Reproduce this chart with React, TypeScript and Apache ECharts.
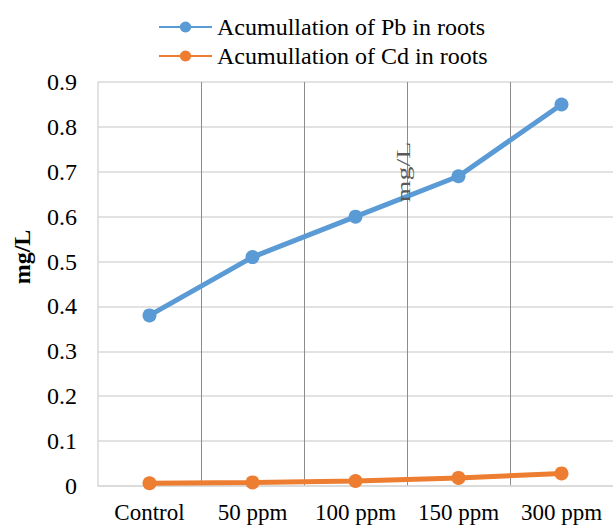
import React, { useEffect, useRef } from "react";
import * as echarts from "echarts";

const categories = ["Control", "50 ppm", "100 ppm", "150 ppm", "300 ppm"];
const pbValues = [0.38, 0.51, 0.6, 0.69, 0.85];
const cdValues = [0.006, 0.008, 0.011, 0.018, 0.028];
const seriesNames = ["Acumullation of Pb in roots", "Acumullation of Cd in roots"];
const yAxisName = "mg/L";
const innerLabel = "mg/L";

const FONT = "Liberation Serif";
const lbl = { fontFamily: FONT, fontSize: 23, color: "#000" };

export default function App() {
  const ref = useRef<HTMLDivElement>(null);
  useEffect(() => {
    if (!ref.current) return;
    const chart = echarts.init(ref.current, null, { renderer: "svg" });
    chart.setOption({
      animation: false,
      textStyle: { fontFamily: FONT },
      legend: {
        orient: "vertical",
        left: 153,
        top: 10,
        itemWidth: 53,
        itemHeight: 14,
        itemGap: 5,
        textStyle: { ...lbl, fontSize: 24 },
        data: seriesNames,
      },
      grid: { left: 98, right: -4, top: 82, bottom: 40 },
      xAxis: {
        type: "category",
        data: categories,
        boundaryGap: true,
        axisLine: { show: true, lineStyle: { color: "#d9d9d9", width: 1.5 } },
        axisTick: { show: false },
        axisLabel: { ...lbl, margin: 15, interval: 0 },
        splitLine: { show: true, showMinLine: false, interval: 0, lineStyle: { color: "#8c8c8c", width: 1 } },
      },
      yAxis: {
        type: "value",
        min: 0,
        max: 0.9,
        interval: 0.1,
        name: yAxisName,
        nameLocation: "middle",
        nameGap: 64,
        nameRotate: 90,
        nameTextStyle: { fontFamily: FONT, fontSize: 24, fontWeight: "bold", color: "#000", padding: [0, 0, 0, 54] },
        axisLine: { show: true, lineStyle: { color: "#d9d9d9", width: 1.5 } },
        axisTick: { show: false },
        axisLabel: { ...lbl, fontSize: 24, margin: 21 },
        splitLine: { show: true, lineStyle: { color: "#d9d9d9", width: 1.5 } },
      },
      graphic: [
        {
          type: "text",
          x: 404,
          y: 172,
          rotation: Math.PI / 2,
          scaleX: 1.55,
          style: {
            text: innerLabel,
            fontFamily: FONT,
            fontSize: 18,
            fill: "#595959",
            align: "center",
            verticalAlign: "middle",
          },
          z: 10,
        },
      ],
      series: [
        {
          name: seriesNames[0],
          type: "line",
          data: pbValues,
          symbol: "circle",
          symbolSize: 14,
          lineStyle: { color: "#5b9bd5", width: 5 },
          itemStyle: { color: "#5b9bd5" },
        },
        {
          name: seriesNames[1],
          type: "line",
          data: cdValues,
          symbol: "circle",
          symbolSize: 14,
          lineStyle: { color: "#ed7d31", width: 5 },
          itemStyle: { color: "#ed7d31" },
        },
      ],
    });
    return () => chart.dispose();
  }, []);
  return <div ref={ref} style={{ width: 613, height: 526, position: "absolute", left: 0, top: 0 }} />;
}
